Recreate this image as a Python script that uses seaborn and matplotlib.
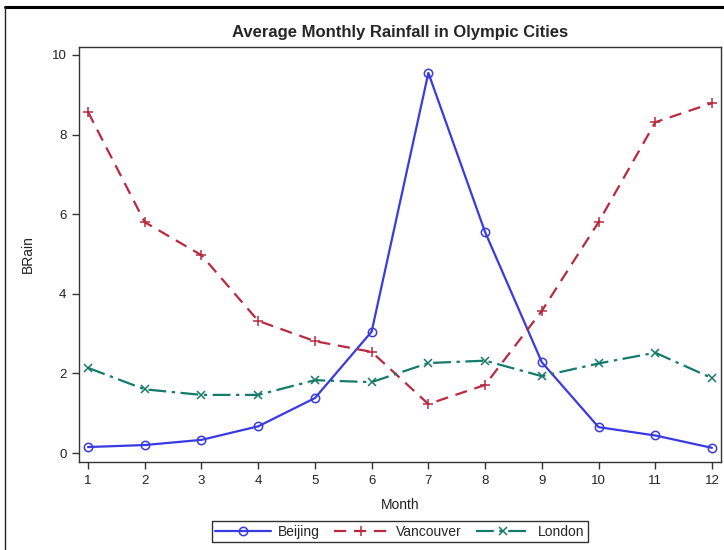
import numpy as np
import pandas as pd
import matplotlib
matplotlib.use('Agg')
import matplotlib.pyplot as plt
from matplotlib.lines import Line2D
import seaborn as sns

# -------------------------------
# Data
# -------------------------------
months = list(range(1, 13))
beijing = [0.15, 0.20, 0.33, 0.67, 1.38, 3.05, 9.55, 5.55, 2.28, 0.65, 0.44, 0.13]
vancouver = [8.57, 5.80, 4.97, 3.32, 2.81, 2.54, 1.23, 1.71, 3.57, 5.80, 8.31, 8.79]
london = [2.14, 1.60, 1.46, 1.46, 1.83, 1.78, 2.26, 2.32, 1.93, 2.25, 2.52, 1.88]
cities = ['Beijing', 'Vancouver', 'London']

df = pd.DataFrame({
    'Month': months * 3,
    'BRain': beijing + vancouver + london,
    'City': np.repeat(cities, len(months)),
})

# -------------------------------
# Style
# -------------------------------
sns.set_style('white')
plt.rcParams['font.family'] = ['Liberation Sans', 'DejaVu Sans']

colors = {'Beijing': '#3a3ae2', 'Vancouver': '#b82a40', 'London': '#167a6c'}
markers = {'Beijing': 'o', 'Vancouver': '+', 'London': 'x'}
msize = {'Beijing': 6, 'Vancouver': 7, 'London': 6}
dashes = {'Vancouver': (5.5, 3.5), 'London': (8, 2.5, 1.5, 2.5)}

fig = plt.figure(figsize=(7.24, 5.5), dpi=100)
ax = fig.add_axes([0.1091, 0.16, 0.9959 - 0.1091, 0.9145 - 0.16])

for city in cities:
    sub = df[df['City'] == city]
    sns.lineplot(data=sub, x='Month', y='BRain', ax=ax, legend=False,
                 marker=markers[city], markersize=msize[city], markeredgewidth=1.1,
                 markerfacecolor='none', markeredgecolor=colors[city],
                 linewidth=1.6, color=colors[city], label=city)
    if city in dashes:
        ax.lines[-1].set_dashes(dashes[city])

ax.set_xlim(0.841, 12.159)
ax.set_ylim(-0.226, 10.2)
ax.set_xticks(months)
ax.set_yticks([0, 2, 4, 6, 8, 10])
ax.tick_params(axis='both', direction='out', length=5, width=1, color='#333333',
               labelsize=9.5, labelcolor='#222222', bottom=True, left=True, pad=4)
for s in ax.spines.values():
    s.set_color('#333333')
    s.set_linewidth(1.0)
ax.set_xlabel('Month', fontsize=10, color='#222222', labelpad=8)
ax.set_ylabel('BRain', fontsize=10, color='#222222', labelpad=12)
ax.set_title('Average Monthly Rainfall in Olympic Cities', fontsize=12,
             fontweight='bold', pad=7)

handles = ax.get_lines()
leg = fig.legend(handles, cities, loc='center', bbox_to_anchor=(0.5525, 0.033),
                 ncol=3, frameon=True, fancybox=False, edgecolor='black',
                 fontsize=10, handlelength=4.0, handletextpad=0.5,
                 columnspacing=1.0, borderpad=0.25, borderaxespad=0)
leg.get_frame().set_linewidth(1.0)

# outer frame of the screenshot
fig.add_artist(Line2D([0.0069, 1.0], [0.987, 0.987], color='black', linewidth=2.2))
fig.add_artist(Line2D([0.0069, 0.0069], [0.0, 0.987], color='#222222', linewidth=1.0))

fig.savefig('out.png', dpi=100)
plt.close()
